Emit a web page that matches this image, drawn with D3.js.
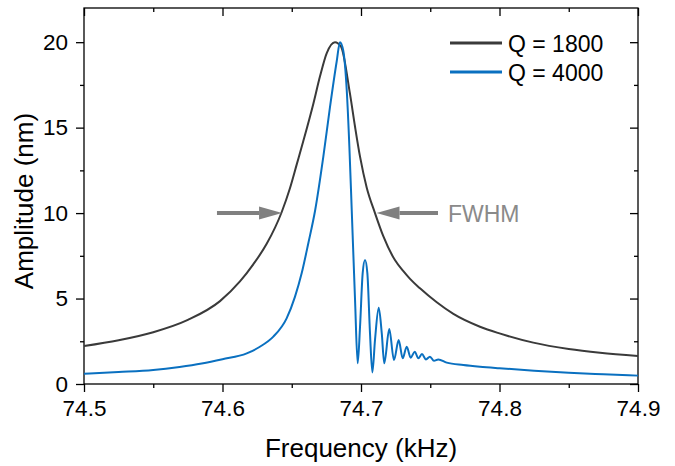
<!DOCTYPE html>
<html>
<head>
<meta charset="utf-8">
<script src="https://cdn.jsdelivr.net/npm/d3@7"></script>
<style>
    body { margin: 0; background: #fff; }
    svg { display: block; font-family: "Liberation Sans", Arial, sans-serif; }
    .axis text { font-size: 22.5px; fill: #000; }
    .axis line, .axis path { stroke: #000; stroke-width: 1.3px; }
</style>
</head>
<body>
<div id="chart"></div>
<script>
// values
var freqGray = [74.5, 74.525, 74.55, 74.575, 74.5982, 74.6126, 74.6222, 74.6319, 74.6427, 74.6487,
    74.6536, 74.6583, 74.6656, 74.6704, 74.6752, 74.6812, 74.6855, 74.692, 74.6957, 74.6993,
    74.7041, 74.7101, 74.7161, 74.7245, 74.7306, 74.7354, 74.7426, 74.7547, 74.7667, 74.7859,
    74.8, 74.8244, 74.85, 74.8726, 74.9];
var ampGray = [2.22, 2.56, 3.03, 3.75, 4.85, 6.0, 7.0, 8.2, 10.05, 11.45,
    12.85, 14.2, 16.4, 18.0, 19.35, 20.0, 19.75, 17.0, 15.05, 13.3,
    11.5, 10.0, 8.65, 7.25, 6.6, 6.15, 5.6, 4.78, 4.1, 3.35,
    2.96, 2.42, 2.05, 1.83, 1.64];

var freqBlue = [74.5, 74.525, 74.55, 74.569, 74.585, 74.6, 74.6175, 74.627, 74.6367, 74.6463,
    74.6523, 74.6572, 74.662, 74.6668, 74.6728, 74.6776, 74.6825, 74.6848, 74.6872,
    74.6897, 74.6916, 74.6933, 74.6957, 74.6976, 74.6993, 74.7012, 74.7029, 74.7046, 74.7065,
    74.7082, 74.7101, 74.7128, 74.715, 74.7168, 74.7204, 74.7238, 74.7272, 74.7301, 74.733,
    74.7359, 74.7388, 74.7414, 74.744, 74.7469, 74.7498, 74.7527, 74.7558, 74.7619, 74.7739,
    74.7859, 74.8, 74.825, 74.85, 74.875, 74.9];
var ampBlue = [0.6, 0.7, 0.82, 1.0, 1.2, 1.45, 1.79, 2.18, 2.77, 3.84,
    5.1, 6.49, 8.25, 10.12, 13.3, 16.2, 18.9, 20.0, 19.5,
    17.2, 13.9, 10.2, 4.91, 1.21, 3.35, 6.47, 7.25, 6.47, 2.96,
    0.68, 2.57, 4.46, 2.96, 1.21, 3.22, 1.40, 2.57, 1.50, 2.18,
    1.54, 1.89, 1.50, 1.75, 1.44, 1.60, 1.36, 1.44, 1.25, 1.11,
    1.01, 0.92, 0.78, 0.66, 0.57, 0.49];

var seriesNames = ["Q = 1800", "Q = 4000"];
var seriesColors = ["#3a3a3a", "#0a70c0"];

var xTicks = [74.5, 74.6, 74.7, 74.8, 74.9];
var xMinorTicks = [74.55, 74.65, 74.75, 74.85];
var yTicks = [0, 5, 10, 15, 20];
var yMinorTicks = [2.5, 7.5, 12.5, 17.5];

// FWHM arrows: [tail, tip] in kHz, at amplitude fwhmLevel
var fwhmLevel = 10;
var arrowLeft = [74.596, 74.643];
var arrowRight = [74.7556, 74.7112];

var svg_width = 675, svg_height = 466;
var margin = {top: 8, right: 37, bottom: 82, left: 84};
var width = svg_width - margin.left - margin.right;
var height = svg_height - margin.top - margin.bottom;

var svg = d3.select("#chart").append("svg")
    .attr("width", svg_width)
    .attr("height", svg_height);
var g = svg.append("g")
    .attr("transform", "translate(" + margin.left + "," + margin.top + ")");

var x = d3.scaleLinear().domain([74.5, 74.9]).range([0, width]);
var y = d3.scaleLinear().domain([0, 22]).range([height, 0]);

function toPoints(fs, as) {
    return fs.map(function(f, i) { return {f: f, a: as[i]}; });
}
var series = [toPoints(freqGray, ampGray), toPoints(freqBlue, ampBlue)];

var line = d3.line()
    .curve(d3.curveMonotoneX)
    .x(function(d) { return x(d.f); })
    .y(function(d) { return y(d.a); });

// axes: major + minor, outward on bottom/left, inward on top/right
function addAxis(axisFn, scale, ticks, size, labels, transform) {
    var ax = axisFn(scale).tickValues(ticks).tickSize(size).tickSizeOuter(0).tickPadding(8);
    if (!labels) ax.tickFormat("");
    else ax.tickFormat(function(d) { return d3.format("")(d); });
    g.append("g").attr("class", "axis")
        .attr("transform", transform || null)
        .call(ax);
}
addAxis(d3.axisBottom, x, xTicks, 8, true, "translate(0," + height + ")");
addAxis(d3.axisBottom, x, xMinorTicks, 4, false, "translate(0," + height + ")");
addAxis(d3.axisTop, x, xTicks, -8, false);
addAxis(d3.axisTop, x, xMinorTicks, -4, false);
addAxis(d3.axisLeft, y, yTicks, 8, true);
addAxis(d3.axisLeft, y, yMinorTicks, 4, false);
addAxis(d3.axisRight, y, yTicks, -8, false, "translate(" + width + ",0)");
addAxis(d3.axisRight, y, yMinorTicks, -4, false, "translate(" + width + ",0)");

g.selectAll(".axis .domain").remove();
g.append("rect")
    .attr("width", width)
    .attr("height", height)
    .attr("fill", "none")
    .attr("stroke", "#000")
    .attr("stroke-width", 1.3);

g.selectAll(".curve")
    .data(series)
  .enter().append("path")
    .attr("class", "curve")
    .attr("d", line)
    .attr("fill", "none")
    .attr("stroke", function(d, i) { return seriesColors[i]; })
    .attr("stroke-width", 2);

// FWHM arrows
var arrowColor = "#808080";
[arrowLeft, arrowRight].forEach(function(a) {
    var x0 = x(a[0]), x1 = x(a[1]), yy = y(fwhmLevel);
    var dir = x1 > x0 ? 1 : -1;
    var headLen = 23, headHalf = 6.5;
    g.append("line")
        .attr("x1", x0).attr("x2", x1 - dir * headLen)
        .attr("y1", yy).attr("y2", yy)
        .attr("stroke", arrowColor)
        .attr("stroke-width", 4);
    g.append("path")
        .attr("d", "M" + x1 + "," + yy +
            "L" + (x1 - dir * headLen) + "," + (yy - headHalf) +
            "L" + (x1 - dir * headLen) + "," + (yy + headHalf) + "Z")
        .attr("fill", arrowColor);
});
g.append("text")
    .attr("x", x(arrowRight[0]) + 10)
    .attr("y", y(fwhmLevel) + 8.5)
    .attr("fill", "#8a8a8a")
    .style("font-size", "23px")
    .text("FWHM");

// legend
var legend = g.append("g").attr("transform", "translate(366,35)");
seriesNames.forEach(function(name, i) {
    legend.append("line")
        .attr("x1", 0).attr("x2", 52)
        .attr("y1", i * 29).attr("y2", i * 29)
        .attr("stroke", seriesColors[i])
        .attr("stroke-width", 3);
    legend.append("text")
        .attr("x", 58)
        .attr("y", i * 29 + 9)
        .style("font-size", "23px")
        .text(name);
});

// axis titles
svg.append("text")
    .attr("x", margin.left + width / 2)
    .attr("y", 457)
    .attr("text-anchor", "middle")
    .style("font-size", "26px")
    .text("Frequency (kHz)");

svg.append("text")
    .attr("transform", "translate(33,201) rotate(-90)")
    .attr("text-anchor", "middle")
    .style("font-size", "26px")
    .text("Amplitude (nm)");
</script>
</body>
</html>
